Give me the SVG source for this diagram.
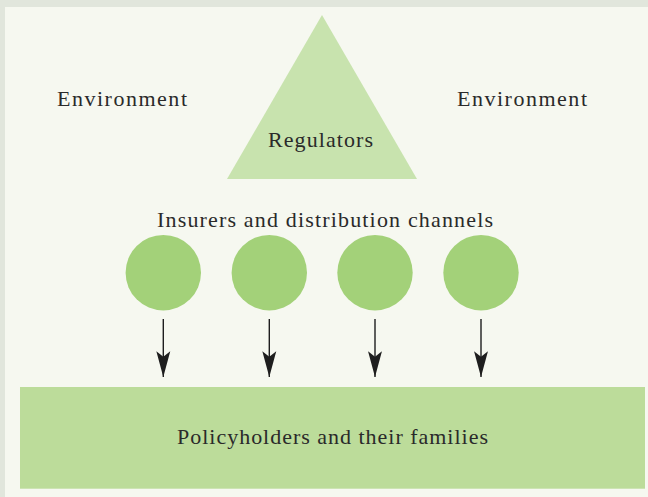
<svg xmlns="http://www.w3.org/2000/svg" width="648" height="497" viewBox="0 0 648 497">
  <style>
    .lbl { font-family: "Liberation Serif", "DejaVu Serif", serif; font-size: 22px; fill: #2a2a2a; }
    .circ { fill: #a3d179; }
    .conn { stroke: #1e1e1e; stroke-width: 1.4; fill: none; }
  </style>
  <defs>
    <marker id="arr" markerUnits="userSpaceOnUse" markerWidth="30" markerHeight="20" viewBox="-26 -8 28 16" refX="0" refY="0" orient="auto">
      <path d="M0,0 L-24,-6.5 L-19,0 L-24,6.5 Z" fill="#1e1e1e"/>
    </marker>
  </defs>
  <rect x="0" y="0" width="648" height="497" fill="#e1e6dc"/>
  <rect x="5" y="7" width="643" height="490" fill="#f6f8f0"/>

  <g id="env-left"><text class="lbl" x="57" y="106" textLength="130" lengthAdjust="spacing">Environment</text></g>
  <g id="env-right"><text class="lbl" x="457" y="106" textLength="130" lengthAdjust="spacing">Environment</text></g>

  <g id="regulators">
    <polygon points="322,15 417,179 227,179" fill="#c8e3ae"/>
    <text class="lbl" x="268" y="146.5" textLength="105" lengthAdjust="spacing">Regulators</text>
  </g>

  <g id="insurers-label"><text class="lbl" x="157" y="226.5" textLength="336" lengthAdjust="spacing">Insurers and distribution channels</text></g>

  <g id="insurer1"><circle class="circ" cx="163.3" cy="272.7" r="37.7"/></g>
  <g id="insurer2"><circle class="circ" cx="269.3" cy="272.7" r="37.7"/></g>
  <g id="insurer3"><circle class="circ" cx="375" cy="272.7" r="37.7"/></g>
  <g id="insurer4"><circle class="circ" cx="481" cy="272.7" r="37.7"/></g>

  <g id="policyholders">
    <rect x="20" y="387" width="625" height="101.7" fill="#bcdc9a"/>
    <text class="lbl" x="177" y="444" textLength="311" lengthAdjust="spacing">Policyholders and their families</text>
  </g>

  <g id="connectors">
    <line class="conn" x1="163.3" y1="319" x2="163.3" y2="377" marker-end="url(#arr)"/>
    <line class="conn" x1="269.3" y1="319" x2="269.3" y2="377" marker-end="url(#arr)"/>
    <line class="conn" x1="375" y1="319" x2="375" y2="377" marker-end="url(#arr)"/>
    <line class="conn" x1="481" y1="319" x2="481" y2="377" marker-end="url(#arr)"/>
  </g>
</svg>
